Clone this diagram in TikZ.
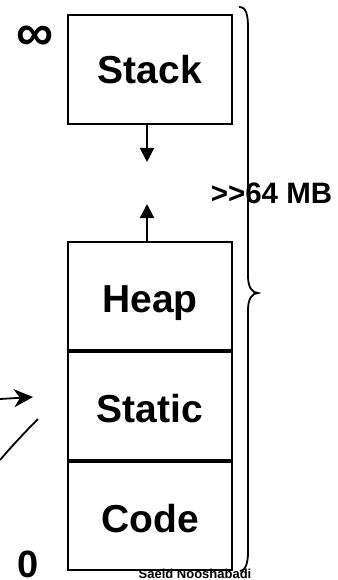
\documentclass[tikz,border=0pt]{standalone}
\usepackage{fontspec}
\setmainfont{Liberation Sans}
\usetikzlibrary{arrows.meta}
\begin{document}
\begin{tikzpicture}[x=1pt,y=-1pt,
  seg/.style={draw, line width=2pt, minimum width=164pt, minimum height=108pt,
    inner sep=0pt, text height=34pt, text depth=0pt,
    font=\fontsize{39}{39}\selectfont\bfseries},
  flow/.style={line width=2pt, -{Triangle[length=14pt,width=14pt]}},
  pointer/.style={line width=1.8pt},
  lbl/.style={inner sep=0pt, anchor=base, font=\bfseries}]
\useasboundingbox (0,0) rectangle (337,580);
% memory segments
\node[seg, minimum height=109pt, text height=28pt] (stack) at (150,69.5) {Stack};
\node[seg] (heap) at (150,295.5) {Heap};
\node[seg, anchor=north] (static) at (heap.south) {Static};
\node[seg, anchor=north] (code) at (static.south) {Code};
% growth arrows
\coordinate (sfrom) at (147,124);
\coordinate (stip) at (147,162);
\coordinate (hfrom) at (147,242);
\coordinate (htip) at (147,204);
\draw[flow] (sfrom) -- (stip);
\draw[flow] (hfrom) -- (htip);
% brace
\coordinate (btop) at (239,7);
\coordinate (bmid) at (258,293);
\coordinate (bbot) at (240,571);
\draw[line width=1.8pt] (btop) .. controls (246,7) and (248,14) .. (248,28)
  -- (248,276) .. controls (248,287) and (252,293) .. (bmid)
  .. controls (252,293) and (248,299) .. (248,310)
  -- (248,552) .. controls (248,564) and (245,571) .. (bbot);
% left pointers
\coordinate (p1a) at (0,399);
\coordinate (p1b) at (33,397);
\coordinate (p2a) at (38,419);
\coordinate (p2b) at (0,460);
\draw[pointer, -{Stealth[length=19pt,width=18pt,inset=6pt]}] (p1a) -- (p1b);
\draw[pointer] (p2a) .. controls (25,432) and (12,446) .. (p2b);
% labels
\node[lbl, font=\fontsize{29.5}{29.5}\selectfont\bfseries] (size) at (271.5,203) {>{}>64 MB};
\node[lbl, font=\fontsize{52}{52}\selectfont\bfseries] (inf) at (35,51) {∞};
\node[lbl, font=\fontsize{38}{38}\selectfont\bfseries] (zero) at (28,577) {0};
\node[lbl, font=\fontsize{13}{13}\selectfont\bfseries] (author) at (195,578) {Saeid Nooshabadi};
\end{tikzpicture}
\end{document}
